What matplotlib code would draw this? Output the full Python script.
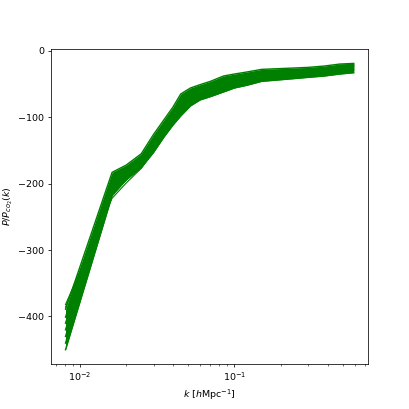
import numpy as np
import matplotlib
matplotlib.use("Agg")
import matplotlib.pyplot as plt

k = [0.0081, 0.0162, 0.020, 0.025, 0.030, 0.035, 0.040, 0.045, 0.052, 0.060, 0.070,
     0.085, 0.10, 0.12, 0.15, 0.19, 0.24, 0.30, 0.38, 0.48, 0.59]

ratio_top = [-389, -183, -172, -155, -126, -104, -85, -65, -56, -51, -46, -38, -35, -32, -28, -27, -26, -25, -23, -20, -19]
ratio_c1 = [-401, -190, -177, -159, -132, -110, -91, -72, -62, -56, -50, -43, -39, -36, -32, -30, -29, -28, -26, -23, -22]
ratio_c2 = [-410, -195, -180, -163, -137, -114, -96, -78, -66, -59, -54, -47, -42, -39, -35, -32, -31, -30, -29, -26, -24]
ratio_c3 = [-420, -200, -183, -166, -140, -117, -99, -82, -70, -63, -57, -50, -45, -42, -37, -35, -34, -32, -31, -28, -26]
ratio_c4 = [-430, -206, -187, -169, -144, -121, -103, -87, -74, -66, -61, -54, -49, -45, -40, -38, -37, -35, -33, -30, -28]
ratio_c5 = [-440, -212, -190, -172, -148, -125, -107, -92, -78, -70, -65, -58, -52, -48, -43, -41, -39, -37, -35, -32, -30]
ratio_bot = [-450, -218, -194, -176, -153, -130, -112, -98, -83, -74, -69, -62, -56, -52, -46, -44, -42, -40, -38, -35, -33]
ratio_s1 = [-382, -222, -199, -177, -150, -127, -108, -90, -76, -68, -62, -55, -50, -46, -41, -38, -36, -34, -32, -24, -22]
ratio_s2 = [-386, -216, -195, -174, -146, -122, -104, -86, -73, -66, -60, -53, -48, -44, -39, -36, -34, -32, -30, -22, -20]

main_curves = [ratio_top, ratio_c1, ratio_c2, ratio_c3, ratio_c4, ratio_c5, ratio_bot]
stray_curves = [ratio_s1, ratio_s2]

fig = plt.figure(figsize=(6, 6), dpi=409 / 6)
ax = fig.add_subplot(111)

arr = np.array(main_curves)
ax.fill_between(k, arr.min(axis=0), arr.max(axis=0), color='green', lw=0)
for c in main_curves:
    ax.plot(k, c, color='green', lw=1.5)
for c in stray_curves:
    ax.plot(k, c, color='green', lw=1.2)

ax.set_xscale('log')
ax.set_xlabel(r'$k$ [$h$Mpc$^{-1}$]')
ax.set_ylabel(r'$P/P_{co_2}(k)$')

fig.savefig('out.png', dpi=409 / 6)
